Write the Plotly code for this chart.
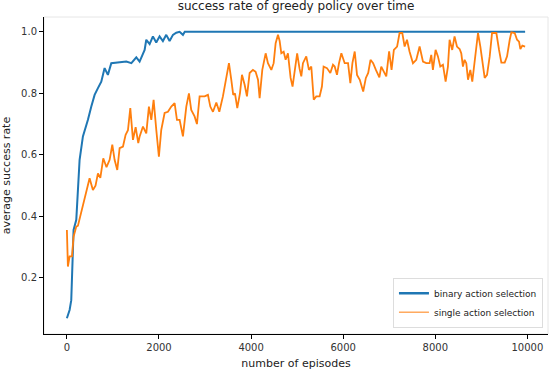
import plotly.graph_objects as go

# episode / success-rate readings
binary_ep = [0, 59, 95, 130, 145, 204, 240, 276, 348, 420, 457, 530, 602, 674, 747, 819, 890, 964,
             1145, 1290, 1400, 1507, 1579, 1688, 1724, 1797, 1868, 1940, 2013, 2085, 2158, 2230,
             2303, 2375, 2447, 2520, 2560, 9950]
binary_rate = [0.069, 0.096, 0.128, 0.28, 0.356, 0.389, 0.497, 0.584, 0.66, 0.692, 0.714, 0.757,
               0.795, 0.817, 0.838, 0.882, 0.86, 0.898, 0.90, 0.903, 0.898, 0.917, 0.903, 0.941,
               0.974, 0.96, 0.985, 0.965, 0.985, 0.97, 0.99, 0.97, 0.99, 0.997, 1.0, 0.99, 1.0, 1.0]

single_ep = [0, 22, 59, 110, 145, 204, 240, 312, 363, 420, 493, 565, 622, 674, 726, 790, 860, 928,
             986, 1036, 1094, 1145, 1218, 1275, 1326, 1377, 1435, 1493, 1550, 1580, 1652, 1724,
             1781, 1833, 1883, 1941, 1998, 2049, 2122, 2194, 2267, 2339, 2390, 2448, 2520, 2593,
             2650, 2700, 2773, 2824, 2882, 2991, 3063, 3114, 3172, 3245, 3310, 3388, 3461, 3519,
             3570, 3612, 3650, 3700, 3758, 3802, 3860, 3910, 3968, 4040, 4098, 4150, 4185, 4243,
             4316, 4366, 4439, 4490, 4533, 4584, 4620, 4656, 4707, 4750, 4800, 4858, 4900, 4945,
             5000, 5052, 5090, 5126, 5198, 5256, 5307, 5360, 5415, 5488, 5538, 5574, 5647, 5720,
             5778, 5815, 5865, 5909, 5960, 6032, 6105, 6155, 6200, 6250, 6300, 6360, 6434, 6492,
             6543, 6593, 6650, 6710, 6785, 6826, 6877, 6935, 6997, 7050, 7100, 7170, 7224, 7283,
             7334, 7385, 7440, 7515, 7587, 7659, 7732, 7804, 7876, 7912, 7948, 8006, 8057, 8108,
             8166, 8224, 8274, 8310, 8367, 8418, 8470, 8528, 8564, 8600, 8636, 8673, 8710, 8760,
             8803, 8854, 8927, 8978, 9021, 9072, 9123, 9181, 9232, 9326, 9384, 9434, 9507, 9558,
             9616, 9652, 9724, 9775, 9818, 9847, 9890, 9950]
single_rate = [0.356, 0.237, 0.27, 0.27, 0.334, 0.367, 0.37, 0.416, 0.444, 0.48, 0.524, 0.486, 0.50,
               0.54, 0.525, 0.589, 0.56, 0.584, 0.633, 0.584, 0.551, 0.622, 0.627, 0.665, 0.68,
               0.752, 0.649, 0.69, 0.638, 0.66, 0.692, 0.67, 0.757, 0.714, 0.779, 0.681, 0.594,
               0.681, 0.736, 0.74, 0.757, 0.768, 0.714, 0.714, 0.66, 0.757, 0.80, 0.746, 0.725,
               0.70, 0.79, 0.79, 0.795, 0.757, 0.74, 0.77, 0.74, 0.79, 0.855, 0.898, 0.844, 0.795,
               0.80, 0.752, 0.80, 0.86, 0.828, 0.79, 0.866, 0.876, 0.87, 0.844, 0.784, 0.876, 0.93,
               0.898, 0.876, 0.898, 0.963, 0.99, 0.97, 0.93, 0.935, 0.909, 0.93, 0.85, 0.822,
               0.876, 0.93, 0.88, 0.855, 0.898, 0.92, 0.876, 0.887, 0.779, 0.79, 0.79, 0.822,
               0.887, 0.882, 0.866, 0.893, 0.887, 0.86, 0.898, 0.93, 0.898, 0.898, 0.833, 0.898,
               0.936, 0.86, 0.844, 0.806, 0.85, 0.866, 0.909, 0.898, 0.876, 0.852, 0.887, 0.87,
               0.855, 0.936, 0.876, 0.941, 0.952, 0.996, 0.996, 0.952, 0.974, 0.936, 0.898, 0.909,
               0.952, 0.903, 0.898, 0.898, 0.925, 0.876, 0.941, 0.92, 0.887, 0.893, 0.838, 0.887,
               0.974, 0.941, 0.985, 0.952, 0.944, 0.93, 0.887, 0.909, 0.898, 0.844, 0.876, 0.838,
               0.909, 0.996, 0.952, 0.898, 0.85, 0.86, 0.92, 0.996, 0.996, 0.941, 0.90, 0.90, 0.92,
               0.974, 0.998, 0.996, 0.974, 0.968, 0.944, 0.955, 0.952]

x_ticks = [0, 2000, 4000, 6000, 8000, 10000]
y_ticks = [0.2, 0.4, 0.6, 0.8, 1.0]

blue = '#1f77b4'
orange = '#ff7f0e'

fig = go.Figure()
fig.add_trace(go.Scatter(x=binary_ep, y=binary_rate, mode='lines', showlegend=False,
                         line=dict(color=blue, width=2)))
fig.add_trace(go.Scatter(x=single_ep, y=single_rate, mode='lines', showlegend=False,
                         line=dict(color=orange, width=1.8)))

# legend-only entries (thick blue, thin orange as in the original)
fig.add_trace(go.Scatter(x=[None], y=[None], mode='lines', name='binary action selection',
                         line=dict(color=blue, width=2.5)))
fig.add_trace(go.Scatter(x=[None], y=[None], mode='lines', name='single action selection',
                         line=dict(color=orange, width=1)))

axis_style = dict(showgrid=False, zeroline=False, showline=True, linecolor='black', linewidth=1,
                  ticks='outside', ticklen=4, tickcolor='black', automargin=False,
                  tickfont=dict(size=10, color='#333333'))

fig.update_xaxes(**axis_style, range=[-497, 10447], tickvals=x_ticks,
                 ticktext=[str(v) for v in x_ticks],
                 title=dict(text='number of episodes', font=dict(size=11, color='#222222'), standoff=7))
fig.update_yaxes(**axis_style, range=[0.018, 1.048], tickvals=y_ticks, tickformat='.1f',
                 title=dict(text='average success rate', font=dict(size=11, color='#222222'), standoff=9))

# light grey top/right frame
fig.add_shape(type='rect', xref='paper', yref='paper', x0=0, y0=0, x1=1, y1=1,
              line=dict(color='#e6e6e6', width=1), layer='below')

fig.update_layout(
    width=550, height=370,
    margin=dict(l=44, r=2, t=17, b=36),
    paper_bgcolor='white', plot_bgcolor='white',
    font=dict(family='DejaVu Sans', color='#222222'),
    title=dict(text='success rate of greedy policy over time', xref='paper', x=0.5, xanchor='center',
               yref='container', y=0.984, yanchor='middle', font=dict(size=12, color='#222222')),
    legend=dict(x=0.99, y=0.02, xanchor='right', yanchor='bottom', bgcolor='white',
                bordercolor='#dddddd', borderwidth=1, font=dict(size=9, color='#222222'),
                tracegroupgap=0, itemwidth=30),
)

# drop the default page margin so the figure sits at the window's corner
fig.write_html('out.html', config={'displayModeBar': False},
               post_script="document.body.style.margin='0';")
